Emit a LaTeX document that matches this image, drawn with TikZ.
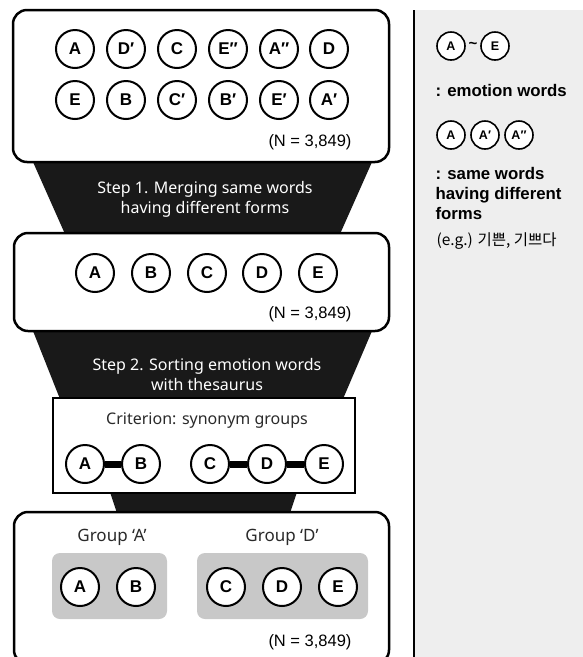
\documentclass[tikz,border=0pt]{standalone}
\usepackage{fontspec}
\setmainfont{Liberation Sans}
\newfontfamily\stepfont{Noto Sans}
\newfontfamily\korfont{Noto Sans CJK KR}
\definecolor{panelgray}{HTML}{EEEEEE}
\definecolor{groupgray}{HTML}{C8C8C8}
\definecolor{textgray}{HTML}{2A2A2A}
\tikzset{
  word/.style={circle, draw, line width=2pt, fill=white, minimum size=38pt, inner sep=0pt, font=\fontsize{17}{17}\selectfont\bfseries},
  smallword/.style={circle, draw, line width=1.6pt, fill=white, minimum size=28pt, inner sep=0pt, font=\fontsize{12.5}{12.5}\selectfont\bfseries},
  stagebox/.style={draw, line width=2.5pt, fill=white, rounded corners=14pt},
  funnel/.style={fill=black!90},
  steptext/.style={text=white, align=center, font=\stepfont\fontsize{16}{20}\selectfont},
  ntext/.style={font=\fontsize{16.5}{17}\selectfont},
  labeltext/.style={text=textgray, font=\stepfont\fontsize{16}{16}\selectfont},
  legendtext/.style={anchor=west, align=left, font=\fontsize{16.8}{20}\selectfont\bfseries},
  link/.style={line width=7pt},
}
\begin{document}
\begin{tikzpicture}[x=1pt,y=-1pt]
\useasboundingbox (0,0) rectangle (583,657);
\begin{scope}
\clip (0,0) rectangle (583,657);
% right panel
\fill[panelgray] (415,10) rectangle (583,657);
\draw[line width=1.5pt] (414,10) -- (414,657);
% funnels
\fill[funnel] (33,162) -- (372,162) -- (340,234) -- (65,234) -- cycle;
\fill[funnel] (33,331) -- (372,331) -- (343,399) -- (60,399) -- cycle;
\fill[funnel] (110,492) -- (297,492) -- (290,513) -- (117,513) -- cycle;
% boxes
\draw[stagebox] (13,10) rectangle (389,162);
\draw[stagebox] (14,233) rectangle (389,331);
\draw[line width=2pt, fill=white] (53,398) rectangle (355,493);
\draw[stagebox] (14,512) rectangle (389,664);
\end{scope}
% stage 1
\node[word] (a1) at (75,49) {A};
\node[word] (a2) at (126,49) {D′};
\node[word] (a3) at (177,49) {C};
\node[word] (a4) at (228,49) {E″};
\node[word] (a5) at (279,49) {A″};
\node[word] (a6) at (329,49) {D};
\node[word] (b1) at (75,100) {E};
\node[word] (b2) at (126,100) {B};
\node[word] (b3) at (177,100) {C′};
\node[word] (b4) at (228,100) {B′};
\node[word] (b5) at (279,100) {E′};
\node[word] (b6) at (329,100) {A′};
\node[ntext] (n1) at (310,142) {(N = 3,849)};
\node[steptext] (s1) at (205,199) {Step 1. Merging same words\\having different forms};
% stage 2
\node[word] (c1) at (95,273) {A};
\node[word] (c2) at (151,273) {B};
\node[word] (c3) at (207,273) {C};
\node[word] (c4) at (262,273) {D};
\node[word] (c5) at (318,273) {E};
\node[ntext] (n2) at (310,314) {(N = 3,849)};
\node[steptext] (s2) at (207,374) {Step 2. Sorting emotion words\\with thesaurus};
% stage 3
\node[labeltext] (crit) at (207,421) {Criterion: synonym groups};
\node[word] (d1) at (85,464) {A};
\node[word] (d2) at (141,464) {B};
\node[word] (d3) at (210,464) {C};
\node[word] (d4) at (267,464) {D};
\node[word] (d5) at (324,464) {E};
\draw[link] (d1.east) -- (d2.west);
\draw[link] (d3.east) -- (d4.west);
\draw[link] (d4.east) -- (d5.west);
% stage 4
\node[labeltext, font=\stepfont\fontsize{17}{17}\selectfont] (ga) at (112,537) {Group ‘A’};
\node[labeltext, font=\stepfont\fontsize{17}{17}\selectfont] (gd) at (282,537) {Group ‘D’};
\fill[groupgray, rounded corners=8pt] (52,553) rectangle (167,619);
\fill[groupgray, rounded corners=8pt] (197,553) rectangle (368,619);
\node[word] (e1) at (80,587) {A};
\node[word] (e2) at (136,587) {B};
\node[word] (e3) at (226,587) {C};
\node[word] (e4) at (282,587) {D};
\node[word] (e5) at (338,587) {E};
\node[ntext] (n3) at (310,642) {(N = 3,849)};
% legend
\node[smallword] (la) at (451,46) {A};
\node[smallword] (le) at (495,46) {E};
\node[font=\fontsize{15}{15}\selectfont\bfseries] (tilde) at (473,45) {\textasciitilde};
\node[legendtext] (l1) at (432,90) {: emotion words};
\node[smallword] (lm1) at (451,135) {A};
\node[smallword] (lm2) at (485,135) {A′};
\node[smallword] (lm3) at (519,135) {A″};
\node[legendtext] (l2) at (432,193) {: same words\\having different\\forms};
\node[anchor=west, font=\korfont\fontsize{15.5}{15.5}\selectfont] (l3) at (433,241) {(e.g.) 기쁜, 기쁘다};
\end{tikzpicture}
\end{document}
